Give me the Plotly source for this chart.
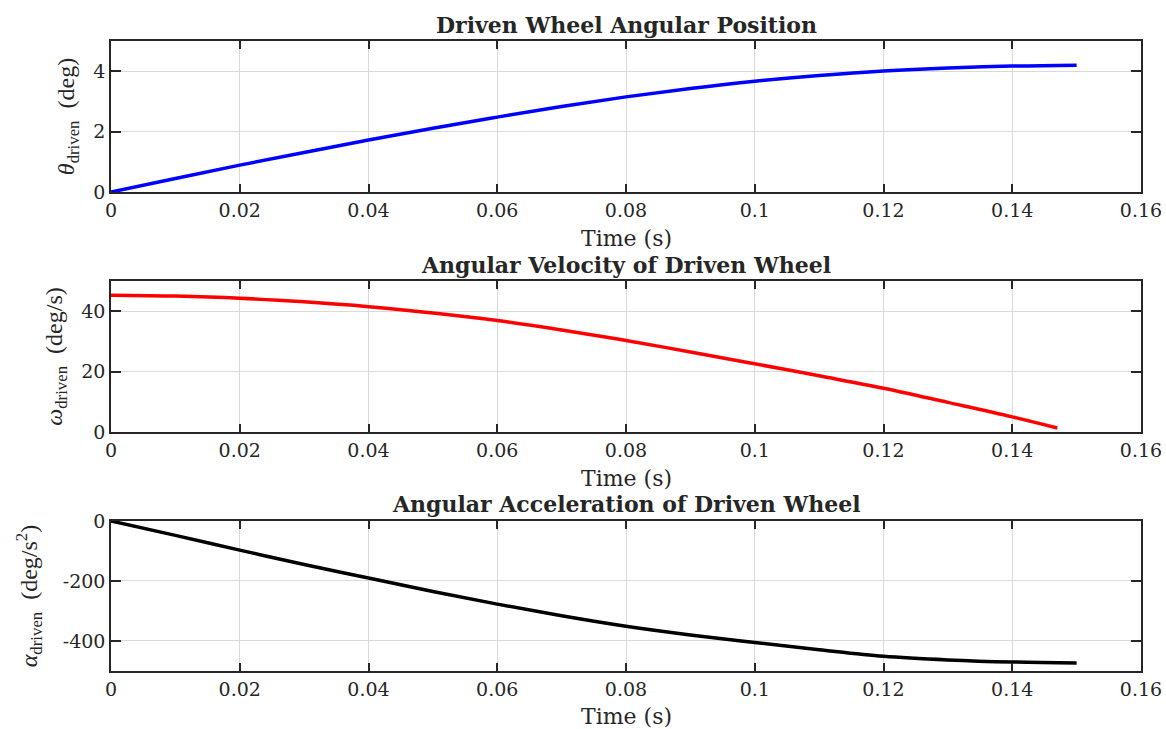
import plotly.graph_objects as go
from plotly.subplots import make_subplots

# ---- data ----
t_theta = [0, 0.01, 0.02, 0.03, 0.04, 0.05, 0.06, 0.07, 0.08, 0.09, 0.10, 0.11, 0.12, 0.13, 0.14, 0.15]
theta = [0, 0.45, 0.89, 1.31, 1.72, 2.11, 2.48, 2.83, 3.15, 3.43, 3.67, 3.86, 4.01, 4.11, 4.17, 4.20]

t_omega = [0, 0.01, 0.02, 0.03, 0.04, 0.05, 0.06, 0.07, 0.08, 0.09, 0.10, 0.11, 0.12, 0.13, 0.14, 0.147]
omega = [45.3, 45.0, 44.3, 43.1, 41.5, 39.4, 36.9, 33.8, 30.3, 26.5, 22.6, 18.6, 14.5, 9.8, 5.0, 1.3]

t_alpha = [0, 0.01, 0.02, 0.03, 0.04, 0.05, 0.06, 0.07, 0.08, 0.09, 0.10, 0.11, 0.12, 0.13, 0.14, 0.15]
alpha = [0, -48, -97, -145, -190, -235, -277, -316, -351, -380, -405, -429, -451, -463, -470, -473]

x_ticks = [0, 0.02, 0.04, 0.06, 0.08, 0.1, 0.12, 0.14, 0.16]
x_tick_text = ["0", "0.02", "0.04", "0.06", "0.08", "0.1", "0.12", "0.14", "0.16"]
y1_ticks = [0, 2, 4]
y2_ticks = [0, 20, 40]
y3_ticks = [0, -200, -400]
y3_tick_text = ["0", "-200", "-400"]

titles = ["Driven Wheel Angular Position", "Angular Velocity of Driven Wheel",
          "Angular Acceleration of Driven Wheel"]
x_title = "Time (s)"

FONT = "DejaVu Serif"
YFONT = "Liberation Serif"
TXT = "#262626"

fig = make_subplots(rows=3, cols=1)

fig.add_trace(go.Scatter(x=t_theta, y=theta, mode="lines", line=dict(color="#0000ff", width=3.5, shape="spline")), row=1, col=1)
fig.add_trace(go.Scatter(x=t_omega, y=omega, mode="lines", line=dict(color="#ff0000", width=3.5, shape="spline")), row=2, col=1)
fig.add_trace(go.Scatter(x=t_alpha, y=alpha, mode="lines", line=dict(color="#000000", width=3.5, shape="spline")), row=3, col=1)

domains = [[0.7603, 1.0], [0.3794, 0.6190], [0.0, 0.2381]]
yranges = [[0, 5], [0, 50], [-500, 0]]
ytitles = ["<i>θ</i><sub>driven</sub>  (deg)", "<i>ω</i><sub>driven</sub>  (deg/s)",
           "<i>α</i><sub>driven</sub>  (deg/s<sup>2</sup>)"]
ytickvals = [y1_ticks, y2_ticks, y3_ticks]
yticktexts = [[str(v) for v in y1_ticks], [str(v) for v in y2_ticks], y3_tick_text]
ystandoff = [12, 12, 18]

axis_common = dict(showline=True, linecolor=TXT, linewidth=1.5, mirror="allticks",
                   ticks="inside", tickcolor=TXT, tickwidth=1.5, automargin=False,
                   showgrid=True, gridcolor="#d9d9d9", gridwidth=1, zeroline=False,
                   tickfont=dict(family=FONT, size=19, color=TXT))

for i in range(3):
    fig.update_xaxes(row=i + 1, col=1, range=[0, 0.16], tickvals=x_ticks, ticktext=x_tick_text,
                     ticklen=8, **axis_common)
    fig.update_yaxes(row=i + 1, col=1, range=yranges[i], domain=domains[i],
                     tickvals=ytickvals[i], ticktext=yticktexts[i], ticklen=10,
                     title=dict(text=ytitles[i], font=dict(family=YFONT, size=24, color=TXT), standoff=ystandoff[i]),
                     **axis_common)

title_y = [1.0254, 0.6444, 0.2651]
xtitle_y = [0.6873, 0.3063, -0.0730]
for i in range(3):
    fig.add_annotation(text="<b>" + titles[i] + "</b>", xref="paper", yref="paper", x=0.5, y=title_y[i],
                       xanchor="center", yanchor="middle", showarrow=False,
                       font=dict(family=FONT, size=22, color=TXT))
    fig.add_annotation(text=x_title, xref="paper", yref="paper", x=0.5, y=xtitle_y[i],
                       xanchor="center", yanchor="middle", showarrow=False,
                       font=dict(family=FONT, size=22, color=TXT))

fig.update_layout(width=1166, height=729, margin=dict(l=111, r=25, t=41, b=58),
                  paper_bgcolor="white", plot_bgcolor="white", showlegend=False)

fig.write_html("out.html")
